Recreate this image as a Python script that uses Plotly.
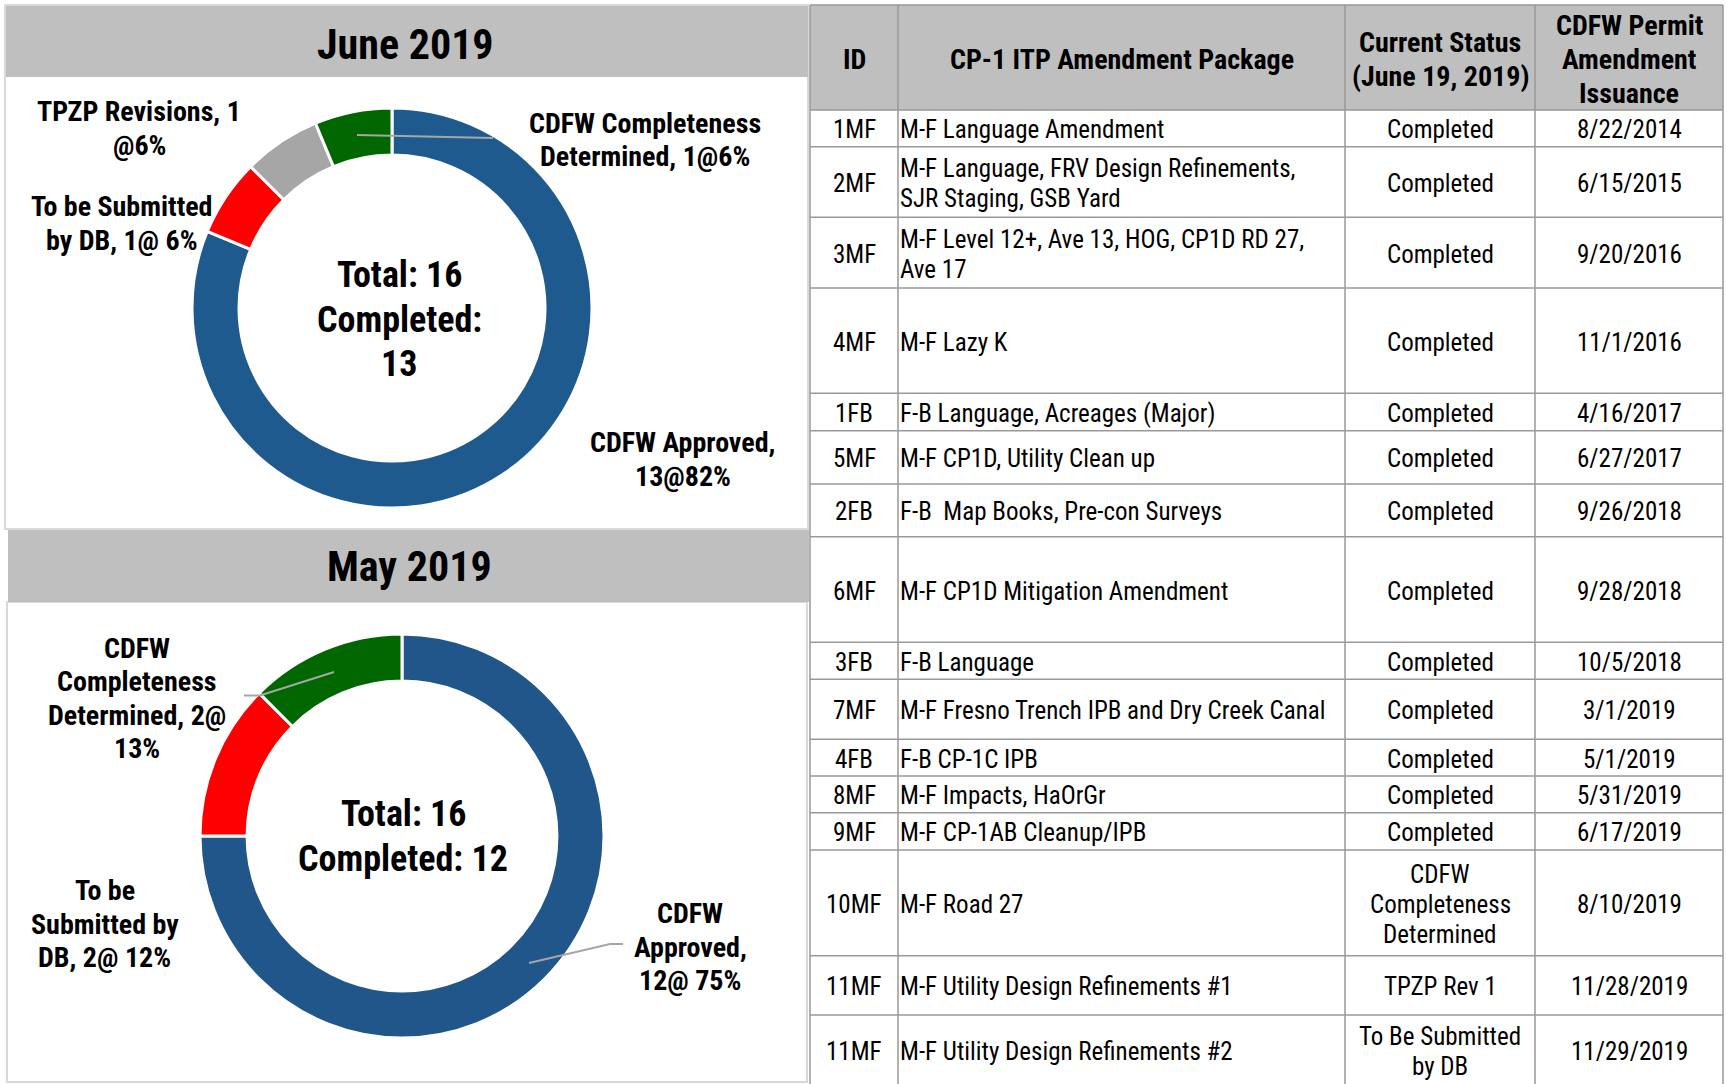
import plotly.graph_objects as go

W, H = 1727, 1084
FONT = "Liberation Sans Narrow, Arial Narrow, Roboto Condensed, DejaVu Sans Condensed, Liberation Sans, sans-serif"

# ---------------- data ----------------
june_title = "June 2019"
june_labels = ["CDFW Approved", "To be Submitted by DB", "TPZP Revisions", "CDFW Completeness Determined"]
june_values = [13, 1, 1, 1]
june_label_text = ["CDFW Approved,<br>13@82%", "To be Submitted<br>by DB, 1@ 6%",
                   "TPZP Revisions, 1<br>@6%", "CDFW Completeness<br>Determined, 1@6%"]
june_center = "Total: 16<br>Completed:<br>13"

may_title = "May 2019"
may_labels = ["CDFW Approved", "To be Submitted by DB", "CDFW Completeness Determined"]
may_values = [12, 2, 2]
may_label_text = ["CDFW<br>Approved,<br>12@ 75%", "To be<br>Submitted by<br>DB, 2@ 12%",
                  "CDFW<br>Completeness<br>Determined, 2@<br>13%"]
may_center = "Total: 16<br>Completed: 12"

table_header = ["ID", "CP-1 ITP Amendment Package", "Current Status<br>(June 19, 2019)",
                "CDFW Permit<br>Amendment<br>Issuance"]
ids = ["1MF", "2MF", "3MF", "4MF", "1FB", "5MF", "2FB", "6MF", "3FB", "7MF", "4FB", "8MF",
       "9MF", "10MF", "11MF", "11MF"]
packages = ["M-F Language Amendment",
            "M-F Language, FRV Design Refinements,<br>SJR Staging, GSB Yard",
            "M-F Level 12+, Ave 13, HOG, CP1D RD 27,<br>Ave 17",
            "M-F Lazy K",
            "F-B Language, Acreages (Major)",
            "M-F CP1D, Utility Clean up",
            "F-B  Map Books, Pre-con Surveys",
            "M-F CP1D Mitigation Amendment",
            "F-B Language",
            "M-F Fresno Trench IPB and Dry Creek Canal",
            "F-B CP-1C IPB",
            "M-F Impacts, HaOrGr",
            "M-F CP-1AB Cleanup/IPB",
            "M-F Road 27",
            "M-F Utility Design Refinements #1",
            "M-F Utility Design Refinements #2"]
status = ["Completed", "Completed", "Completed", "Completed", "Completed", "Completed",
          "Completed", "Completed", "Completed", "Completed", "Completed", "Completed",
          "Completed", "CDFW<br>Completeness<br>Determined", "TPZP Rev 1",
          "To Be Submitted<br>by DB"]
dates = ["8/22/2014", "6/15/2015", "9/20/2016", "11/1/2016", "4/16/2017", "6/27/2017",
         "9/26/2018", "9/28/2018", "10/5/2018", "3/1/2019", "5/1/2019", "5/31/2019",
         "6/17/2019", "8/10/2019", "11/28/2019", "11/29/2019"]

# ---------------- layout / style (pixels) ----------------
BLUE, RED, GRAY, GREEN = "#1F5A8E", "#FF0000", "#A6A6A6", "#006600"
june_colors = [BLUE, RED, GRAY, GREEN]
may_colors = ["#20568A", RED, GREEN]
HEAD_GRAY = "#BFBFBF"

june_pie = dict(cx=392, cy=308, r=200, hole=0.765)
may_pie = dict(cx=402, cy=836, r=202, hole=0.767)
june_label_pos = [(682.5, 458), (122, 222), (139, 127), (644.5, 138.5)]
may_label_pos = [(690, 945.5), (104.5, 922.7), (136.5, 697)]
june_leaders = [[(357, 135), (493, 138)]]
may_leaders = [[(334, 672), (260, 695.5), (244, 695.5)], [(529, 963), (610, 944), (623, 944)]]

COL_EDGES = [810, 898, 1345, 1535, 1723]
ROW_EDGES = [5, 110, 146.7, 217.3, 288, 393.3, 430.7, 484, 536.7, 642.3, 679.3, 739.3, 776,
             812.7, 850, 955.7, 1015, 1086]

LBL_SIZE, LBL_SP = 28, 33.5
CTR_SIZE, CTR_SP = 36, 44.5
TTL_SIZE = 42
HDR_SIZE, HDR_SP = 28, 34
BODY_SIZE, BODY_SP = 25, 30
YOFF = 1.5  # small vertical correction for annotation boxes

fig = go.Figure()
annotations = []
shapes = []


def add_text(x, y, text, size, spacing, bold=False, anchor="center"):
    lines = text.split("<br>")
    n = len(lines)
    for i, line in enumerate(lines):
        yy = y + (i - (n - 1) / 2) * spacing + YOFF
        annotations.append(dict(
            x=x, y=yy, xref="x", yref="y", text=line, showarrow=False,
            xanchor=anchor, yanchor="middle", borderpad=0,
            font=dict(family=FONT, size=size, color="black", weight=700 if bold else 400)))


# panel backgrounds
shapes.append(dict(type="rect", xref="x", yref="y", x0=5, x1=808, y0=5, y1=529,
                   line=dict(color="#D9D9D9", width=2), fillcolor="white", layer="below"))
shapes.append(dict(type="rect", xref="x", yref="y", x0=6, x1=808, y0=6, y1=77,
                   line=dict(width=0), fillcolor=HEAD_GRAY, layer="below"))
shapes.append(dict(type="rect", xref="x", yref="y", x0=7, x1=807, y0=602, y1=1082,
                   line=dict(color="#D9D9D9", width=2), fillcolor="white", layer="below"))
shapes.append(dict(type="rect", xref="x", yref="y", x0=8, x1=809, y0=530, y1=602,
                   line=dict(width=0), fillcolor=HEAD_GRAY, layer="below"))
# table header fill
shapes.append(dict(type="rect", xref="x", yref="y", x0=COL_EDGES[0], x1=COL_EDGES[-1],
                   y0=ROW_EDGES[0], y1=ROW_EDGES[1], line=dict(width=0),
                   fillcolor=HEAD_GRAY, layer="below"))


def pie_domain(p):
    return dict(x=[(p["cx"] - p["r"]) / W, (p["cx"] + p["r"]) / W],
                y=[1 - (p["cy"] + p["r"]) / H, 1 - (p["cy"] - p["r"]) / H])


for vals, labs, cols, p in [(june_values, june_labels, june_colors, june_pie),
                            (may_values, may_labels, may_colors, may_pie)]:
    fig.add_trace(go.Pie(values=vals, labels=labs, hole=p["hole"], sort=False,
                         direction="clockwise", rotation=0, textinfo="none",
                         hoverinfo="label+value", showlegend=False,
                         marker=dict(colors=cols, line=dict(color="white", width=3)),
                         domain=pie_domain(p)))

# table grid lines via a scatter trace on a pixel-unit axis
gx, gy = [], []
for xe in COL_EDGES:
    gx += [xe, xe, None]
    gy += [ROW_EDGES[0], ROW_EDGES[-1], None]
for ye in ROW_EDGES[:-1]:
    gx += [COL_EDGES[0], COL_EDGES[-1], None]
    gy += [ye, ye, None]
fig.add_trace(go.Scatter(x=gx, y=gy, mode="lines", line=dict(color="#999999", width=1.5),
                         hoverinfo="skip", showlegend=False))

# leader lines (drawn above the donut slices)
for seg in june_leaders + may_leaders:
    path = "M " + " L ".join(f"{q[0]},{q[1]}" for q in seg)
    shapes.append(dict(type="path", xref="x", yref="y", path=path, layer="above",
                       line=dict(color="#A6A6A6", width=2)))

# titles and labels
add_text(405.5, 43, june_title, TTL_SIZE, 0, bold=True)
add_text(409, 565, may_title, TTL_SIZE, 0, bold=True)
for t, (x, y) in zip(june_label_text, june_label_pos):
    add_text(x, y, t, LBL_SIZE, LBL_SP, bold=True)
for t, (x, y) in zip(may_label_text, may_label_pos):
    add_text(x, y, t, LBL_SIZE, LBL_SP, bold=True)
add_text(june_pie["cx"] + 7, june_pie["cy"] + 10, june_center, CTR_SIZE, CTR_SP, bold=True)
add_text(may_pie["cx"] + 1, may_pie["cy"] - 1, may_center, CTR_SIZE, CTR_SP + 0.5, bold=True)

# table texts
hy = (ROW_EDGES[0] + ROW_EDGES[1]) / 2
for j, h in enumerate(table_header):
    add_text((COL_EDGES[j] + COL_EDGES[j + 1]) / 2, hy, h, HDR_SIZE, HDR_SP, bold=True)
for i in range(len(ids)):
    y0, y1 = ROW_EDGES[i + 1], min(ROW_EDGES[i + 2], 1084)
    cy = (y0 + y1) / 2
    add_text((COL_EDGES[0] + COL_EDGES[1]) / 2, cy, ids[i], BODY_SIZE, BODY_SP)
    add_text(COL_EDGES[1] + 1, cy, packages[i], BODY_SIZE, BODY_SP, anchor="left")
    add_text((COL_EDGES[2] + COL_EDGES[3]) / 2, cy, status[i], BODY_SIZE, BODY_SP)
    add_text((COL_EDGES[3] + COL_EDGES[4]) / 2, cy, dates[i], BODY_SIZE, BODY_SP)

fig.update_layout(
    width=W, height=H, margin=dict(l=0, r=0, t=0, b=0),
    paper_bgcolor="white", plot_bgcolor="white",
    xaxis=dict(range=[0, W], visible=False, fixedrange=True, domain=[0, 1]),
    yaxis=dict(range=[H, 0], visible=False, fixedrange=True, domain=[0, 1]),
    shapes=shapes, annotations=annotations, showlegend=False,
)

fig.write_html("out.html", config={"displayModeBar": False},
               post_script="document.body.style.margin='0';document.body.style.overflow='hidden';")
